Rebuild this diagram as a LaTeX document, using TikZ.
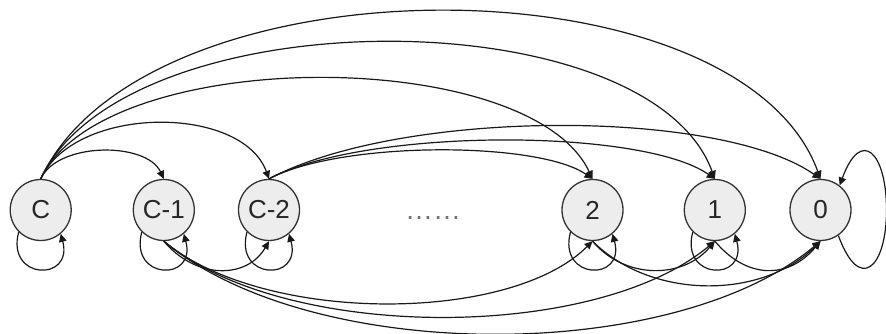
\documentclass[tikz,border=0pt]{standalone}
\usepackage{fontspec}
\setmainfont{Liberation Sans}
\usetikzlibrary{arrows.meta}
\begin{document}
\begin{tikzpicture}[x=1pt,y=1pt,
  state/.style={circle, draw=black!80, fill=black!7, line width=1.3pt, minimum size=61pt, inner sep=0pt, font=\fontsize{26}{30}\selectfont, text=black!85},
  arc/.style={line width=1.2pt, draw=black!90, -{Triangle[length=8pt,width=7.5pt]}},
]
\useasboundingbox (0,0) rectangle (886,334);
\node[state] (C) at (40.7,124) {C};
\node[state] (Cm1) at (163.8,124) {C-1};
\node[state] (Cm2) at (269,124) {C-2};
\node[state] (S2) at (592.5,124) {2};
\node[state] (S1) at (714.8,124) {1};
\node[state] (S0) at (820.5,124) {0};
\node[anchor=base, font=\fontsize{28}{30}\selectfont, text=black!55, inner sep=0pt] (dots) at (433,114.5) {……};

% self loops
\foreach \n in {C,Cm1,Cm2,S2,S1}
  \draw[arc] (\n.225) .. controls +(255:50) and +(285:50) .. (\n.310);
\draw[arc] (S0.-55) .. controls +(-70:62) and +(0,-58) .. ([xshift=66pt]S0.center) .. controls +(0,58) and +(70:62) .. (S0.52);

% top arcs from C
\draw[arc] (C.north) .. controls +(65:41) and +(115:41) .. (Cm1.north);
\draw[arc] (C.north) .. controls +(65:82) and +(110:79) .. (Cm2.north);
\draw[arc] (C.north) .. controls +(65:148) and +(115:148) .. (S2.north);
\draw[arc] (C.north) .. controls +(65:201) and +(110:194) .. (S1.north);
\draw[arc] (C.north) .. controls +(65:247) and +(110:238) .. (S0.north);
% top arcs from C-2
\draw[arc] (Cm2.north) .. controls +(28:81) and +(145:66) .. (S2.north);
\draw[arc] (Cm2.north) .. controls +(28:109) and +(145:89) .. (S1.north);
\draw[arc] (Cm2.north) .. controls +(28:150) and +(145:123) .. (S0.north);

% bottom arcs
\draw[arc] (Cm1.south) .. controls +(-50:50) and +(-120:44) .. (Cm2.south);
\draw[arc] (Cm1.south) .. controls +(-40:129) and +(-135:117) .. (S2.south);
\draw[arc] (Cm1.south) .. controls +(-40:157) and +(-140:157) .. (S1.south);
\draw[arc] (Cm1.south) .. controls +(-40:192) and +(-140:192) .. (S0.south);
\draw[arc] (S2.south) .. controls +(-50:50) and +(-130:50) .. (S1.south);
\draw[arc] (S2.south) .. controls +(-45:83) and +(-135:83) .. (S0.south);
\draw[arc] (S1.south) .. controls +(-50:50) and +(-130:50) .. (S0.south);
\end{tikzpicture}
\end{document}
